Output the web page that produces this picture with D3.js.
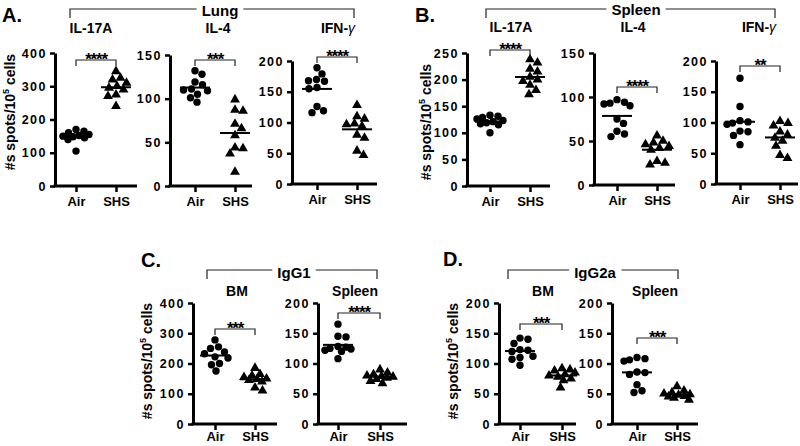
<!DOCTYPE html>
<html><head><meta charset="utf-8">
<script src="https://cdn.jsdelivr.net/npm/d3@7/dist/d3.min.js"></script>
<style>
html,body{margin:0;padding:0;background:#fff;}
svg{display:block;font-family:"Liberation Sans",Arial,sans-serif;}
</style></head>
<body>
<svg id="c" width="800" height="446"></svg>
<script>
// ---------- data ----------
const groups = ["Air", "SHS"];
const ticks400 = [0, 100, 200, 300, 400];
const ticks250 = [0, 50, 100, 150, 200, 250];
const ticks200 = [0, 50, 100, 150, 200];
const ticks150 = [0, 50, 100, 150];

const lungIL17A_air = [170, 165, 160, 155, 152, 150, 148, 145, 140, 105];
const lungIL17A_shs = [345, 325, 320, 310, 300, 295, 290, 275, 270, 240];
const lungIL4_air = [132, 128, 119, 116, 111, 110, 109, 105, 101, 96];
const lungIL4_shs = [99, 87, 86, 71, 66, 58, 44, 43, 37, 16];
const lungIFN_air = [189, 179, 170, 168, 167, 157, 155, 126, 119, 116];
const lungIFN_shs = [128, 110, 106, 98, 97, 94, 80, 75, 54, 47];
const spleenIL17A_air = [133, 131, 129, 126, 123, 121, 119, 117, 115, 100];
const spleenIL17A_shs = [238, 232, 220, 215, 205, 200, 197, 190, 180, 172];
const spleenIL4_air = [97, 94, 93, 92, 90, 75, 70, 61, 58, 55];
const spleenIL4_shs = [56, 50, 48, 46, 44, 42, 40, 27, 25, 23];
const spleenIFN_air = [172, 126, 103, 101, 99, 97, 86, 85, 79, 64];
const spleenIFN_shs = [102, 99, 95, 85, 80, 75, 70, 62, 47, 42];
const igg1BM_air = [278, 255, 250, 238, 232, 222, 218, 200, 196, 175];
const igg1BM_shs = [185, 165, 160, 155, 150, 148, 145, 140, 120, 110];
const igg1Spleen_air = [165, 145, 144, 128, 127, 125, 124, 122, 120, 108];
const igg1Spleen_shs = [90, 85, 82, 80, 79, 78, 76, 74, 71, 67];
const igg2aBM_air = [142, 140, 133, 123, 122, 120, 112, 110, 107, 97];
const igg2aBM_shs = [92, 90, 88, 85, 82, 80, 78, 75, 72, 60];
const igg2aSpleen_air = [110, 108, 106, 104, 86, 85, 82, 65, 55, 52];
const igg2aSpleen_shs = [62, 55, 52, 50, 49, 48, 46, 45, 43, 40];

const significance = ["****", "***", "****", "****", "****", "**", "***", "****", "***", "***"];
const subLabels = ["IL-17A", "IL-4", "IFN-γ", "IL-17A", "IL-4", "IFN-γ", "BM", "Spleen", "BM", "Spleen"];
const headerLabels = ["Lung", "Spleen", "IgG1", "IgG2a"];
const panelLetters = ["A.", "B.", "C.", "D."];

// ---------- layout ----------
const panels = [
  {air: lungIL17A_air, shs: lungIL17A_shs, ticks: ticks400, ax: 55, top: 53, bot: 186, xEnd: 137, xA: 76, xS: 116, bY: 60, subX: 91, subY: 33, pad: 5},
  {air: lungIL4_air, shs: lungIL4_shs, ticks: ticks150, ax: 170, top: 55, bot: 186, xEnd: 252, xA: 195, xS: 235, bY: 60, subX: 218, subY: 33, pad: 5},
  {air: lungIFN_air, shs: lungIFN_shs, ticks: ticks200, ax: 292, top: 61, bot: 184, xEnd: 377, xA: 317, xS: 357, bY: 57, subX: 338, subY: 33, pad: 5},
  {air: spleenIL17A_air, shs: spleenIL17A_shs, ticks: ticks250, ax: 467, top: 53, bot: 186, xEnd: 550, xA: 490, xS: 530, bY: 50, subX: 511, subY: 32, pad: 5},
  {air: spleenIL4_air, shs: spleenIL4_shs, ticks: ticks150, ax: 594, top: 53, bot: 185, xEnd: 675, xA: 617, xS: 657, bY: 87, subX: 633, subY: 32, pad: 5},
  {air: spleenIFN_air, shs: spleenIFN_shs, ticks: ticks200, ax: 716, top: 61, bot: 184, xEnd: 798, xA: 740, xS: 780, bY: 66, subX: 759, subY: 32, pad: 5},
  {air: igg1BM_air, shs: igg1BM_shs, ticks: ticks400, ax: 193, top: 303, bot: 424, xEnd: 277, xA: 215, xS: 255, bY: 329, subX: 237, subY: 296, pad: 2},
  {air: igg1Spleen_air, shs: igg1Spleen_shs, ticks: ticks200, ax: 318, top: 303, bot: 424, xEnd: 407, xA: 338, xS: 380, bY: 313, subX: 355, subY: 296, pad: 2},
  {air: igg2aBM_air, shs: igg2aBM_shs, ticks: ticks200, ax: 499, top: 303, bot: 424, xEnd: 576, xA: 520, xS: 562, bY: 324, subX: 543, subY: 296, pad: 2},
  {air: igg2aSpleen_air, shs: igg2aSpleen_shs, ticks: ticks200, ax: 612, top: 303, bot: 424, xEnd: 698, xA: 637, xS: 677, bY: 338, subX: 655, subY: 296, pad: 2}
];
const headers = [
  {x1: 70, x2: 354, y: 9, tx: 220, ty: 16},
  {x1: 486, x2: 775, y: 9, tx: 636, ty: 15},
  {x1: 207, x2: 377, y: 270, tx: 294, ty: 278},
  {x1: 508, x2: 678, y: 270, tx: 595, ty: 278}
];
const letterPos = [[2, 22], [415, 22], [141, 267], [443, 266]];
const yTitlePos = [[10, 112], [426, 122], [147, 361], [453, 361]];

const svg = d3.select("#c");
const R = 3.7;
const MAXOFF = 13;

function swarm(values, y, cx) {
  const pts = values.map(v => ({v, y: y(v)})).sort((a, b) => a.y - b.y);
  const placed = [];
  const minD = 2 * R * 1.05;
  for (const p of pts) {
    let best = 0, bestScore = -Infinity;
    const cands = [0];
    for (let k = 1; k * 0.5 <= MAXOFF; k++) cands.push(k * 0.5, -k * 0.5);
    for (const o of cands) {
      const d = placed.length ? d3.min(placed, q => Math.hypot(q.dx - o, q.y - p.y)) : Infinity;
      if (d >= minD) { best = o; bestScore = Infinity; break; }
      if (d > bestScore + 0.01) { bestScore = d; best = o; }
    }
    p.dx = best; p.cx = cx + best;
    placed.push(p);
  }
  return pts;
}

panels.forEach((p, i) => {
  const g = svg.append("g");
  const yMax = p.ticks[p.ticks.length - 1];
  const y = d3.scaleLinear().domain([0, yMax]).range([p.bot, p.top]);
  const x = d3.scalePoint().domain(groups).range([p.xA, p.xS]);

  // y axis
  const ya = g.append("g").attr("transform", `translate(${p.ax},0)`)
    .call(d3.axisLeft(y).tickValues(p.ticks).tickSize(5).tickSizeOuter(0).tickPadding(3));
  ya.select(".domain").attr("stroke", "#000").attr("stroke-width", 3);
  ya.selectAll(".tick line").attr("stroke", "#000").attr("stroke-width", 2.5);
  ya.selectAll(".tick text").attr("font-size", 12.5).attr("font-weight", "bold")
    .attr("font-family", "Liberation Sans, Arial, sans-serif").attr("fill", "#000")
    .style("letter-spacing", "1.5px");

  // x axis
  const xa = g.append("g").attr("transform", `translate(0,${p.bot})`)
    .call(d3.axisBottom(x).tickSize(6).tickSizeOuter(0).tickPadding(p.pad));
  xa.select(".domain").attr("d", `M${p.ax - 1.5},0H${p.xEnd}`).attr("stroke", "#000").attr("stroke-width", 3);
  xa.selectAll(".tick line").attr("stroke", "#000").attr("stroke-width", 2.5);
  xa.selectAll(".tick text").attr("font-size", 13).attr("font-weight", "bold")
    .attr("font-family", "Liberation Sans, Arial, sans-serif").attr("fill", "#000");

  // points
  const airPts = swarm(p.air, y, x("Air"));
  g.selectAll("circle.air").data(airPts).join("circle")
    .attr("cx", d => d.cx).attr("cy", d => d.y).attr("r", R).attr("fill", "#000");
  const shsPts = swarm(p.shs, y, x("SHS"));
  const tri = d3.symbol().type(d3.symbolTriangle).size(42);
  g.selectAll("path.shs").data(shsPts).join("path")
    .attr("d", tri).attr("transform", d => `translate(${d.cx},${d.y})`).attr("fill", "#000");

  // mean lines
  [["Air", p.air], ["SHS", p.shs]].forEach(([k, arr]) => {
    const m = d3.mean(arr);
    g.append("line").attr("x1", x(k) - 15).attr("x2", x(k) + 15)
      .attr("y1", y(m)).attr("y2", y(m)).attr("stroke", "#000").attr("stroke-width", 2);
  });

  // significance bracket
  const bx1 = x("Air"), bx2 = x("SHS");
  g.append("path").attr("d", `M${bx1},${p.bY + 6}V${p.bY}H${bx2}V${p.bY + 6}`)
    .attr("fill", "none").attr("stroke", "#222").attr("stroke-width", 1.2);
  g.append("text").attr("x", (bx1 + bx2) / 2).attr("y", p.bY + 5).attr("text-anchor", "middle")
    .attr("font-size", 17).attr("font-weight", "bold").style("letter-spacing", "-1.2px")
    .text(significance[i]);

  // sub label
  const sl = g.append("text").attr("x", p.subX).attr("y", p.subY).attr("text-anchor", "middle")
    .attr("font-size", 14).attr("font-weight", "bold");
  const lab = subLabels[i];
  if (lab.endsWith("γ")) {
    sl.append("tspan").text(lab.slice(0, -1));
    sl.append("tspan").attr("font-style", "italic").attr("font-weight", "normal").text("γ");
  } else sl.text(lab);
});

// group headers
headers.forEach((h, i) => {
  const t = svg.append("text").attr("x", h.tx).attr("y", h.ty).attr("text-anchor", "middle")
    .attr("font-size", 15).attr("font-weight", "bold").text(headerLabels[i]);
  const bb = t.node().getBBox();
  svg.append("path").attr("d", `M${h.x1},${h.y + 9}V${h.y}H${bb.x - 5}`)
    .attr("fill", "none").attr("stroke", "#222").attr("stroke-width", 1.2);
  svg.append("path").attr("d", `M${bb.x + bb.width + 5},${h.y}H${h.x2}V${h.y + 9}`)
    .attr("fill", "none").attr("stroke", "#222").attr("stroke-width", 1.2);
});

// panel letters
panelLetters.forEach((l, i) => {
  svg.append("text").attr("x", letterPos[i][0]).attr("y", letterPos[i][1])
    .attr("font-size", 20).attr("font-weight", "bold").text(l);
});

// y titles
yTitlePos.forEach(([cx, cy]) => {
  const t = svg.append("text").attr("transform", `translate(${cx},${cy}) rotate(-90)`)
    .attr("text-anchor", "middle").attr("dy", "0.35em").attr("font-size", 14).attr("font-weight", "bold");
  t.append("tspan").text("#s spots/10");
  t.append("tspan").attr("font-size", 9).attr("dy", "-6").text("5");
  t.append("tspan").attr("dy", "6").text(" cells");
});
</script>
</body></html>
